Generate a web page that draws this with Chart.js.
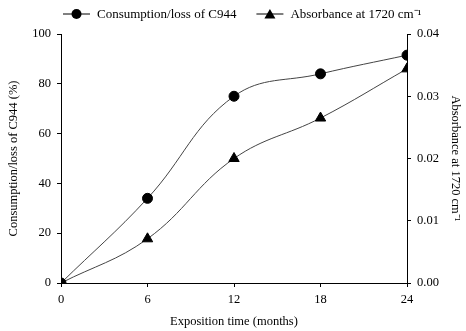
<!DOCTYPE html>
<html>
<head>
<meta charset="utf-8">
<script src="https://cdn.jsdelivr.net/npm/chart.js@4"></script>
<style>
  html, body { margin: 0; padding: 0; background: #fff; }
  #wrap { width: 466px; height: 331px; }
</style>
</head>
<body>
<div id="wrap"><canvas id="chart"></canvas></div>
<script>
// data
const months = [0, 6, 12, 18, 24];
const consumption = [0, 34, 75, 84, 91.5];              // % (left axis)
const absorbance = [0, 0.0071, 0.0200, 0.0265, 0.0344]; // right axis
const xTicks = [0, 6, 12, 18, 24];

const FONT = "'Liberation Serif', 'Times New Roman', serif";
const AXIS_FONT = { family: FONT, size: 12.5 };

// legend: line with marker in the middle, then the label
const lineLegend = {
  id: "lineLegend",
  afterDraw(chart) {
    const ctx = chart.ctx;
    const y = 14;
    let x = 63;
    ctx.save();
    ctx.font = "13px " + FONT;
    ctx.textBaseline = "middle";
    chart.data.datasets.forEach((ds) => {
      ctx.strokeStyle = "#000";
      ctx.lineWidth = 1;
      ctx.beginPath(); ctx.moveTo(x, y); ctx.lineTo(x + 27, y); ctx.stroke();
      ctx.fillStyle = "#000";
      ctx.beginPath();
      const cx = x + 13.5;
      if (ds.pointStyle === "circle") {
        ctx.arc(cx, y, 5, 0, Math.PI * 2);
      } else {
        ctx.moveTo(cx, y - 5); ctx.lineTo(cx + 5.5, y + 4.5); ctx.lineTo(cx - 5.5, y + 4.5); ctx.closePath();
      }
      ctx.fill();
      ctx.fillText(ds.label, x + 34, y + 1);
      x += 34 + ctx.measureText(ds.label).width + 20;
    });
    ctx.restore();
  },
};

new Chart(document.getElementById("chart").getContext("2d"), {
  type: "line",
  data: {
    datasets: [
      {
        label: "Consumption/loss of C944",
        data: months.map((m, i) => ({ x: m, y: consumption[i] })),
        yAxisID: "y",
        borderColor: "#444",
        borderWidth: 1,
        backgroundColor: "#000",
        pointBackgroundColor: "#000",
        pointBorderColor: "#000",
        pointStyle: "circle",
        pointRadius: 5,
        tension: 0.4,
        fill: false,
      },
      {
        label: "Absorbance at 1720 cm\u207B\u00B9",
        data: months.map((m, i) => ({ x: m, y: absorbance[i] })),
        yAxisID: "y1",
        borderColor: "#444",
        borderWidth: 1,
        backgroundColor: "#000",
        pointBackgroundColor: "#000",
        pointBorderColor: "#000",
        pointStyle: "triangle",
        pointRadius: 6,
        tension: 0.4,
        fill: false,
      },
    ],
  },
  options: {
    responsive: true,
    maintainAspectRatio: false,
    animation: false,
    layout: { padding: { top: 34, left: 0, right: 0, bottom: 0 } },
    plugins: {
      tooltip: { enabled: false },
      legend: { display: false },
    },
    scales: {
      x: {
        type: "linear",
        min: 0,
        max: 24,
        afterBuildTicks: (s) => { s.ticks = xTicks.map((v) => ({ value: v })); },
        afterFit: (s) => { s.height = 48; },
        grid: { drawOnChartArea: false, drawTicks: true, tickLength: 4, color: "#000" },
        border: { display: true, color: "#000" },
        ticks: { color: "#000", padding: 5, maxRotation: 0, font: AXIS_FONT },
        title: {
          display: true,
          text: "Exposition time (months)",
          color: "#000",
          font: AXIS_FONT,
          padding: { top: 0, bottom: 1.5 },
        },
      },
      y: {
        position: "left",
        min: 0,
        max: 100,
        afterFit: (s) => { s.width = 61; },
        ticks: { stepSize: 20, color: "#000", padding: 6, font: AXIS_FONT },
        grid: { drawOnChartArea: false, drawTicks: true, tickLength: 4, color: "#000" },
        border: { display: true, color: "#000" },
        title: {
          display: true,
          text: "Consumption/loss of C944 (%)",
          color: "#000",
          font: AXIS_FONT,
          padding: { top: 6.5, bottom: 0 },
        },
      },
      y1: {
        position: "right",
        min: 0,
        max: 0.04,
        afterFit: (s) => { s.width = 59; },
        ticks: {
          stepSize: 0.01,
          color: "#000",
          padding: 6,
          font: AXIS_FONT,
          callback: (v) => v.toFixed(2),
        },
        grid: { drawOnChartArea: false, drawTicks: true, tickLength: 4, color: "#000" },
        border: { display: true, color: "#000" },
        title: {
          display: true,
          text: "Absorbance at 1720 cm\u207B\u00B9",
          color: "#000",
          font: AXIS_FONT,
          padding: { top: 3.5, bottom: 0 },
        },
      },
    },
  },
  plugins: [lineLegend],
});
</script>
</body>
</html>
